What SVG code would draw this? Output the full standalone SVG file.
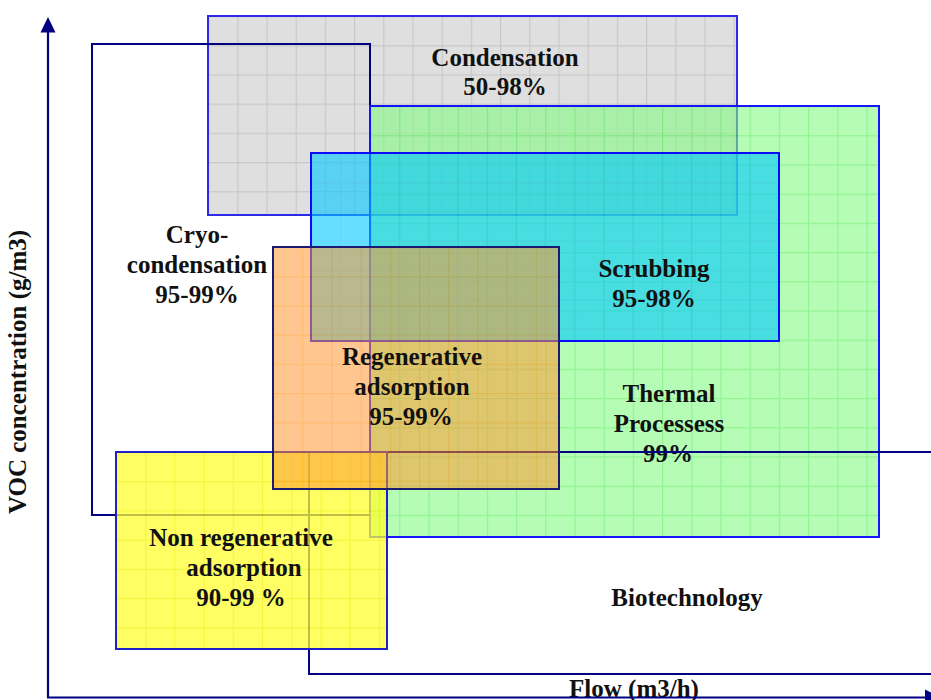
<svg xmlns="http://www.w3.org/2000/svg" width="931" height="700" viewBox="0 0 931 700">
  <style>
    .lbl { font-family: "Liberation Serif", "Times New Roman", serif; font-weight: bold; font-size: 25px; fill: #111111; text-anchor: middle; }
    .edge { fill: none; stroke-width: 2; }
    .frame { fill: none; stroke: #000080; stroke-width: 2; }
    .axis { stroke: #000080; stroke-width: 2.2; fill: none; }
  </style>
  <defs>
    <!-- grid fills, each anchored to the top-left corner of its box -->
    <pattern id="gridGray" patternUnits="userSpaceOnUse" x="208" y="16" width="29.2" height="29.2">
      <rect width="29.2" height="29.2" fill="#dfdfdf"/>
      <path d="M0.6 0V29.2M0 0.6H29.2" stroke="#c8c8c8" stroke-width="1.2"/>
    </pattern>
    <pattern id="gridGreen" patternUnits="userSpaceOnUse" x="370" y="106" width="29.2" height="29.2">
      <rect width="29.2" height="29.2" fill="#84fa84"/>
      <path d="M0.6 0V29.2M0 0.6H29.2" stroke="#48ec48" stroke-width="1.2"/>
    </pattern>
    <pattern id="gridCyan" patternUnits="userSpaceOnUse" x="311" y="153" width="29.2" height="29.2">
      <rect width="29.2" height="29.2" fill="#00c8ff"/>
      <path d="M0.6 0V29.2M0 0.6H29.2" stroke="#00b8f4" stroke-width="1.2"/>
    </pattern>
    <pattern id="gridOrange" patternUnits="userSpaceOnUse" x="273" y="247" width="29.2" height="29.2">
      <rect width="29.2" height="29.2" fill="#ff9933"/>
      <path d="M0.6 0V29.2M0 0.6H29.2" stroke="#ff8400" stroke-width="1.2"/>
    </pattern>
    <pattern id="gridYellow" patternUnits="userSpaceOnUse" x="116" y="452" width="29.2" height="29.2">
      <rect width="29.2" height="29.2" fill="#ffff30"/>
      <path d="M0.6 0V29.2M0 0.6H29.2" stroke="#f2f200" stroke-width="1.2"/>
    </pattern>
  </defs>

  <rect width="931" height="700" fill="#ffffff"/>

  <g id="condensation">
    <rect x="208" y="16" width="529" height="199" fill="url(#gridGray)"/>
    <rect class="edge" x="208" y="16" width="529" height="199" stroke="#2a2ae8"/>
    <text class="lbl" x="505" y="66">Condensation</text>
    <text class="lbl" x="505" y="95">50-98%</text>
  </g>

  <g id="cryo-condensation">
    <rect class="frame" x="92" y="44" width="278" height="471"/>
    <text class="lbl" x="197" y="243">Cryo-</text>
    <text class="lbl" x="197" y="273">condensation</text>
    <text class="lbl" x="197" y="303">95-99%</text>
  </g>

  <g id="thermal">
    <rect x="370" y="106" width="509" height="431" fill="url(#gridGreen)" opacity="0.6"/>
    <rect class="edge" x="370" y="106" width="509" height="431" stroke="#1414ff"/>
    <text class="lbl" x="669" y="402">Thermal</text>
    <text class="lbl" x="669" y="432">Processess</text>
    <text class="lbl" x="668" y="462">99%</text>
  </g>

  <g id="scrubbing">
    <rect x="311" y="153" width="468" height="188" fill="url(#gridCyan)" opacity="0.6"/>
    <rect class="edge" x="311" y="153" width="468" height="188" stroke="#0a0aff"/>
    <text class="lbl" x="654" y="277">Scrubbing</text>
    <text class="lbl" x="654" y="307">95-98%</text>
  </g>

  <g id="biotechnology">
    <rect class="frame" x="309" y="452" width="640" height="222"/>
    <text class="lbl" x="687" y="606">Biotechnology</text>
  </g>

  <g id="non-regenerative-adsorption">
    <rect x="116" y="452" width="271" height="197" fill="url(#gridYellow)" opacity="0.75"/>
    <rect class="edge" x="116" y="452" width="271" height="197" stroke="#2020c8"/>
    <text class="lbl" x="241" y="546">Non regenerative</text>
    <text class="lbl" x="244" y="576">adsorption</text>
    <text class="lbl" x="241" y="606">90-99 %</text>
  </g>

  <g id="regenerative-adsorption">
    <rect x="273" y="247" width="286" height="242" fill="url(#gridOrange)" opacity="0.55"/>
    <rect class="edge" x="273" y="247" width="286" height="242" stroke="#1a1a70"/>
    <text class="lbl" x="412" y="365">Regenerative</text>
    <text class="lbl" x="412" y="395">adsorption</text>
    <text class="lbl" x="411" y="425">95-99%</text>
  </g>

  <g id="axes">
    <text class="lbl" x="634" y="697">Flow (m3/h)</text>
    <text class="lbl" transform="translate(26 372) rotate(-90)" x="0" y="0">VOC concentration (g/m3)</text>
    <path class="axis" d="M48 697.5V30"/>
    <polygon points="48,17 40.5,32.5 55.5,32.5" fill="#000080"/>
    <path class="axis" d="M47 697.5H926"/>
    <polygon points="925,689.5 941,697.5 925,705.5" fill="#000080"/>
  </g>
</svg>
